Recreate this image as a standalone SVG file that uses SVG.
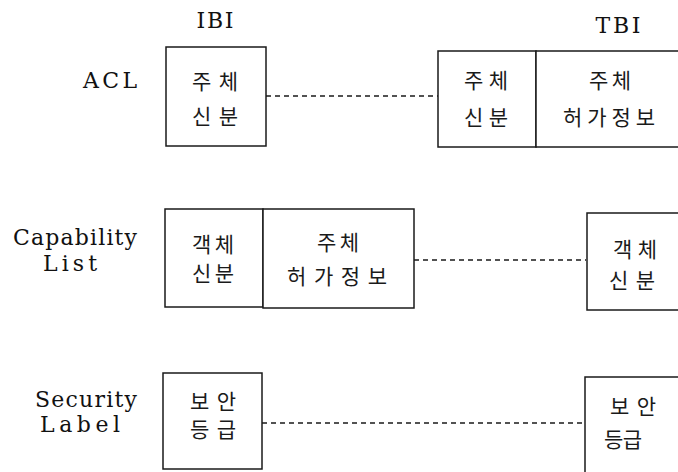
<svg xmlns="http://www.w3.org/2000/svg" width="678" height="472" viewBox="0 0 678 472">
<style>
.bg{fill:#fff}
.box{fill:#fff;stroke:#1a1a1a;stroke-width:1.5}
.dash{stroke:#1a1a1a;stroke-width:1.5;stroke-dasharray:5 4;fill:none}
.lat{font-family:"DejaVu Serif","Liberation Serif",serif;font-size:22px;fill:#111;text-anchor:middle}
.ko{font-family:"Noto Sans CJK KR",sans-serif;font-size:21px;fill:#1a1a1a;text-anchor:middle}
</style>
<rect class="bg" x="0" y="0" width="678" height="472"/>
<g id="headers">
<text class="lat" x="215" y="28" textLength="37" lengthAdjust="spacing">IBI</text>
<text class="lat" x="618" y="33" textLength="45" lengthAdjust="spacing">TBI</text>
</g>
<g id="row-labels">
<text class="lat" x="110" y="88" textLength="54" lengthAdjust="spacing">ACL</text>
<text class="lat" x="75" y="245" textLength="124" lengthAdjust="spacing">Capability</text>
<text class="lat" x="70" y="271" textLength="54" lengthAdjust="spacing">List</text>
<text class="lat" x="86" y="407" textLength="102" lengthAdjust="spacing">Security</text>
<text class="lat" x="80" y="432" textLength="80" lengthAdjust="spacing">Label</text>
</g>
<g id="connectors">
<line class="dash" x1="266" y1="96" x2="438" y2="96"/>
<line class="dash" x1="414" y1="260" x2="586" y2="260"/>
<line class="dash" x1="262" y1="423" x2="585" y2="423"/>
</g>
<g id="acl-ibi">
<rect class="box" x="166" y="47" width="100" height="99"/>
<text class="ko" x="215" y="89" textLength="46" lengthAdjust="spacing">주체</text>
<text class="ko" x="215" y="124" textLength="46" lengthAdjust="spacing">신분</text>
</g>
<g id="acl-tbi-id">
<rect class="box" x="438" y="51" width="98" height="96"/>
<text class="ko" x="486" y="88" textLength="44" lengthAdjust="spacing">주체</text>
<text class="ko" x="486" y="125" textLength="44" lengthAdjust="spacing">신분</text>
</g>
<g id="acl-tbi-auth">
<rect class="box" x="536" y="51" width="160" height="96"/>
<text class="ko" x="610" y="88" textLength="42" lengthAdjust="spacing">주체</text>
<text class="ko" x="609" y="125" textLength="92" lengthAdjust="spacing">허가정보</text>
</g>
<g id="cap-ibi-id">
<rect class="box" x="165" y="209" width="98" height="98"/>
<text class="ko" x="213" y="252" textLength="42" lengthAdjust="spacing">객체</text>
<text class="ko" x="213" y="281" textLength="42" lengthAdjust="spacing">신분</text>
</g>
<g id="cap-ibi-auth">
<rect class="box" x="263" y="209" width="151" height="99"/>
<text class="ko" x="338" y="250" textLength="42" lengthAdjust="spacing">주체</text>
<text class="ko" x="337" y="284" textLength="100" lengthAdjust="spacing">허가정보</text>
</g>
<g id="cap-tbi">
<rect class="box" x="587" y="213" width="110" height="97"/>
<text class="ko" x="635" y="257" textLength="44" lengthAdjust="spacing">객체</text>
<text class="ko" x="632" y="288" textLength="46" lengthAdjust="spacing">신분</text>
</g>
<g id="sec-ibi">
<rect class="box" x="163" y="373" width="99" height="96"/>
<text class="ko" x="213" y="409" textLength="46" lengthAdjust="spacing">보안</text>
<text class="ko" x="213" y="437" textLength="46" lengthAdjust="spacing">등급</text>
</g>
<g id="sec-tbi">
<rect class="box" x="585" y="377" width="110" height="110"/>
<text class="ko" x="633" y="414" textLength="46" lengthAdjust="spacing">보안</text>
<text class="ko" x="623" y="447" textLength="38" lengthAdjust="spacing">등급</text>
</g>
</svg>
